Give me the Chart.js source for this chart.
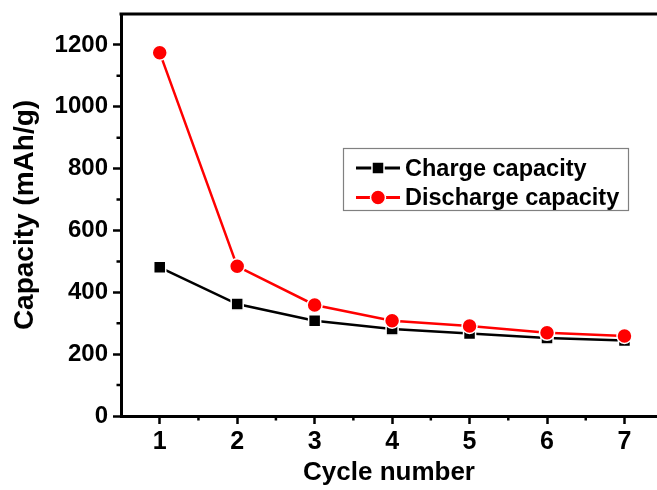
<!DOCTYPE html>
<html><head><meta charset="utf-8">
<script src="https://cdn.jsdelivr.net/npm/chart.js@4"></script>
<style>
html,body{margin:0;padding:0;overflow:hidden;background:#fff;width:657px;height:490px}
canvas{display:block}
</style>
</head><body><canvas id="c" width="657" height="490" style="width:657px;height:490px"></canvas>
<script>
const cycles = [1, 2, 3, 4, 5, 6, 7];
const chargeCapacity = [481, 362, 308, 281, 267, 252, 244];
const dischargeCapacity = [1175, 484, 359, 308, 291, 269, 259];
const xTickValues = [1, 2, 3, 4, 5, 6, 7];
const xMinorTickValues = [1.5, 2.5, 3.5, 4.5, 5.5, 6.5];
const yTickValues = [0, 200, 400, 600, 800, 1000, 1200];
const yMinorTickValues = [100, 300, 500, 700, 900, 1100];
const seriesLabels = ['Charge capacity', 'Discharge capacity'];
const xTitle = 'Cycle number';
const yTitle = 'Capacity (mAh/g)';

const toPoints = (vals) => cycles.map((c, i) => ({x: c, y: vals[i]}));

const framePlugin = {
  id: 'frameAndLegend',
  afterDraw(chart) {
    const {ctx, chartArea: a, scales: {x, y}} = chart;
    ctx.save();
    ctx.strokeStyle = '#000';
    ctx.lineWidth = 3;
    ctx.beginPath();
    ctx.moveTo(a.left - 1.5, a.top);
    ctx.lineTo(a.right, a.top);
    ctx.stroke();
    ctx.lineWidth = 2.5;
    ctx.beginPath();
    yMinorTickValues.forEach(v => { const p = y.getPixelForValue(v); ctx.moveTo(a.left - 4.5, p); ctx.lineTo(a.left, p); });
    xMinorTickValues.forEach(v => { const p = x.getPixelForValue(v); ctx.moveTo(p, a.bottom); ctx.lineTo(p, a.bottom + 4.5); });
    ctx.stroke();

    // legend box
    ctx.lineWidth = 1.2;
    ctx.strokeStyle = '#808080';
    ctx.strokeRect(343.5, 148.5, 285, 62);
    chart.data.datasets.forEach((ds, i) => {
      const cy = 168 + i * 29.5;
      ctx.strokeStyle = ds.borderColor;
      ctx.lineWidth = 3;
      ctx.beginPath(); ctx.moveTo(356, cy); ctx.lineTo(400, cy); ctx.stroke();
      ctx.fillStyle = ds.pointBackgroundColor;
      ctx.strokeStyle = '#fff';
      ctx.lineWidth = 1.5;
      Chart.helpers.drawPoint(ctx, {pointStyle: ds.pointStyle, radius: ds.pointRadius, borderWidth: 1.5, rotation: 0}, 378, cy);
      ctx.fillStyle = '#000';
      ctx.font = 'bold 23.5px "Liberation Sans", Arial, sans-serif';
      ctx.textBaseline = 'alphabetic';
      ctx.textAlign = 'left';
      ctx.fillText(ds.label, 405, cy + 7.5);
    });
    ctx.restore();
  }
};

new Chart(document.getElementById('c'), {
  type: 'line',
  data: {
    datasets: [
      {
        label: seriesLabels[0],
        data: toPoints(chargeCapacity),
        borderColor: '#000000',
        backgroundColor: '#000000',
        pointBackgroundColor: '#000000',
        pointBorderColor: '#ffffff',
        pointBorderWidth: 1.5,
        pointStyle: 'rect',
        pointRadius: 8.5,
        borderWidth: 2.5,
        tension: 0,
        order: 1
      },
      {
        label: seriesLabels[1],
        data: toPoints(dischargeCapacity),
        borderColor: '#ff0000',
        backgroundColor: '#ff0000',
        pointBackgroundColor: '#ff0000',
        pointBorderColor: '#ffffff',
        pointBorderWidth: 1.5,
        pointStyle: 'circle',
        pointRadius: 7.5,
        borderWidth: 2.5,
        tension: 0,
        order: 0
      }
    ]
  },
  options: {
    responsive: false,
    devicePixelRatio: 1,
    animation: false,
    layout: {autoPadding: false, padding: {top: 14, right: 0, left: 0, bottom: 0}},
    plugins: {legend: {display: false}, tooltip: {enabled: false}},
    scales: {
      x: {
        type: 'linear', min: 0.5, max: 7.42,
        afterBuildTicks: s => { s.ticks = xTickValues.map(v => ({value: v})); },
        afterFit: s => { s.height = 74; s.paddingRight = 0; s.paddingLeft = 0; },
        grid: {display: true, drawOnChartArea: false, drawTicks: true, tickLength: 8, tickWidth: 2.5, tickColor: '#000'},
        border: {display: true, color: '#000', width: 3},
        ticks: {color: '#000', padding: 3, maxRotation: 0, autoSkip: false,
          font: {family: '"Liberation Sans", Arial, sans-serif', size: 25, weight: 'bold'},
          callback: v => String(v)},
        title: {display: true, text: xTitle, color: '#000',
          font: {family: '"Liberation Sans", Arial, sans-serif', size: 26, weight: 'bold'},
          padding: {top: 0, bottom: 1.5}}
      },
      y: {
        type: 'linear', min: 0, max: 1300,
        afterBuildTicks: s => { s.ticks = yTickValues.map(v => ({value: v})); },
        afterFit: s => { s.width = 121; s.paddingTop = 0; s.paddingBottom = 0; },
        grid: {display: true, drawOnChartArea: false, drawTicks: true, tickLength: 8, tickWidth: 2.5, tickColor: '#000'},
        border: {display: true, color: '#000', width: 3},
        ticks: {color: '#000', padding: 5, autoSkip: false,
          font: {family: '"Liberation Sans", Arial, sans-serif', size: 24, weight: 'bold'},
          callback: v => String(v)},
        title: {display: true, text: yTitle, color: '#000',
          font: {family: '"Liberation Sans", Arial, sans-serif', size: 28, weight: 'bold'},
          padding: {top: 8, bottom: 0}}
      }
    }
  },
  plugins: [framePlugin]
});
</script>
</body></html>
